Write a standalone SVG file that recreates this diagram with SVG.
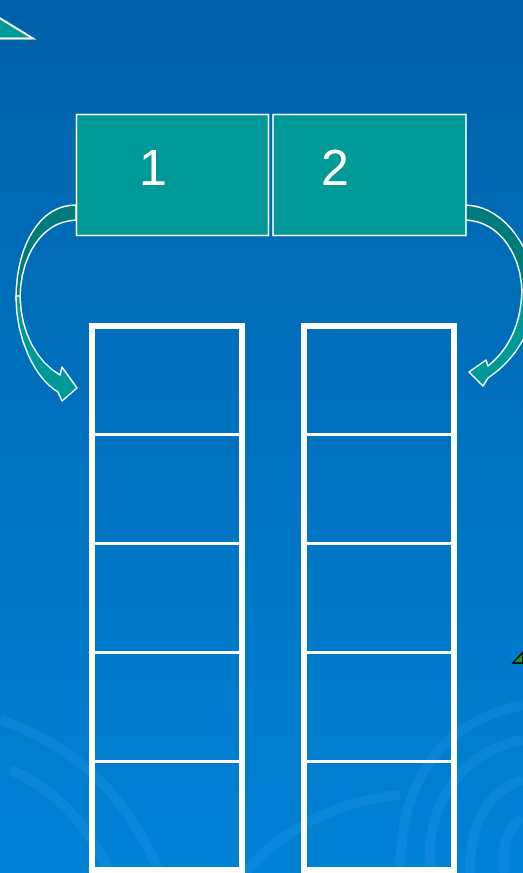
<svg xmlns="http://www.w3.org/2000/svg" width="523" height="873" viewBox="0 0 523 873">
<defs>
<linearGradient id="bg" x1="0" y1="0" x2="0" y2="1">
<stop offset="0" stop-color="#0062A9"/>
<stop offset="1" stop-color="#0082D6"/>
</linearGradient>
<style>
.box{fill:#009999;stroke:#ffffff;stroke-width:1.5}
.num{font-family:"Liberation Sans",Arial,sans-serif;font-size:50px;fill:#ffffff;text-anchor:middle}
.col{fill:none;stroke:#ffffff;stroke-width:6}
.div{stroke:#ffffff;stroke-width:3}
.back{fill:#007B7B;stroke:#ffffff;stroke-width:1.5;stroke-linejoin:round}
.front{fill:#009999;stroke:#ffffff;stroke-width:1.5;stroke-linejoin:round}
.swirl{fill:none;stroke:#2a9af0;stroke-opacity:0.25;stroke-width:10}
</style>
</defs>
<rect width="523" height="873" fill="url(#bg)"/>
<g id="decor">
<path class="swirl" d="M400,873 C400,770 450,720 523,705"/>
<path class="swirl" d="M430,873 C425,800 465,750 523,740"/>
<path class="swirl" d="M470,873 C470,820 490,790 523,780"/>
<path class="swirl" d="M505,873 C500,845 510,825 523,818"/>
<path class="swirl" d="M245,873 C280,830 340,800 400,795"/>
<path class="swirl" d="M0,720 C60,740 120,780 160,873"/>
<path class="swirl" d="M10,770 C60,790 90,830 110,873"/>
<polygon points="-2,17 33,38.5 -2,38.5" fill="#009999" stroke="#ffffff" stroke-width="2"/>
<polygon points="513,663 523,652 523,663" fill="#1a9a1a" stroke="#000000" stroke-width="1.5"/>
</g>
<g id="box1">
<rect class="box" x="76.5" y="114.5" width="192" height="121"/>
<text class="num" x="153" y="185">1</text>
</g>
<g id="box2">
<rect class="box" x="273" y="114.5" width="193" height="121"/>
<text class="num" x="335" y="185">2</text>
</g>
<g id="column1">
<rect class="col" x="92" y="326" width="150" height="544"/>
<line class="div" x1="95" y1="434.5" x2="239" y2="434.5"/>
<line class="div" x1="95" y1="543.5" x2="239" y2="543.5"/>
<line class="div" x1="95" y1="652.5" x2="239" y2="652.5"/>
<line class="div" x1="95" y1="761.5" x2="239" y2="761.5"/>
</g>
<g id="column2">
<rect class="col" x="304" y="326" width="150" height="544"/>
<line class="div" x1="307" y1="434.5" x2="451" y2="434.5"/>
<line class="div" x1="307" y1="543.5" x2="451" y2="543.5"/>
<line class="div" x1="307" y1="652.5" x2="451" y2="652.5"/>
<line class="div" x1="307" y1="761.5" x2="451" y2="761.5"/>
</g>
<g id="connectors">
<path class="back" d="M76,205 C40,205 16,245 16,300 L20,300 C20,258 40,222 76,220 Z"/>
<path class="front" d="M16,296 C16,340 35,378 58,392 L62,401 L77,388 L62,367 L60,375 C38,362 21,335 20,296 Z"/>
<path class="back" d="M466,205 C505,207 535,250 535,295 L522,295 C522,255 500,222 466,220 Z"/>
<path class="front" d="M535,290 C535,330 515,360 488,378 L483,386 L469,372 L486,360 L488,366 C508,350 521,325 522,290 Z"/>
</g>
</svg>
